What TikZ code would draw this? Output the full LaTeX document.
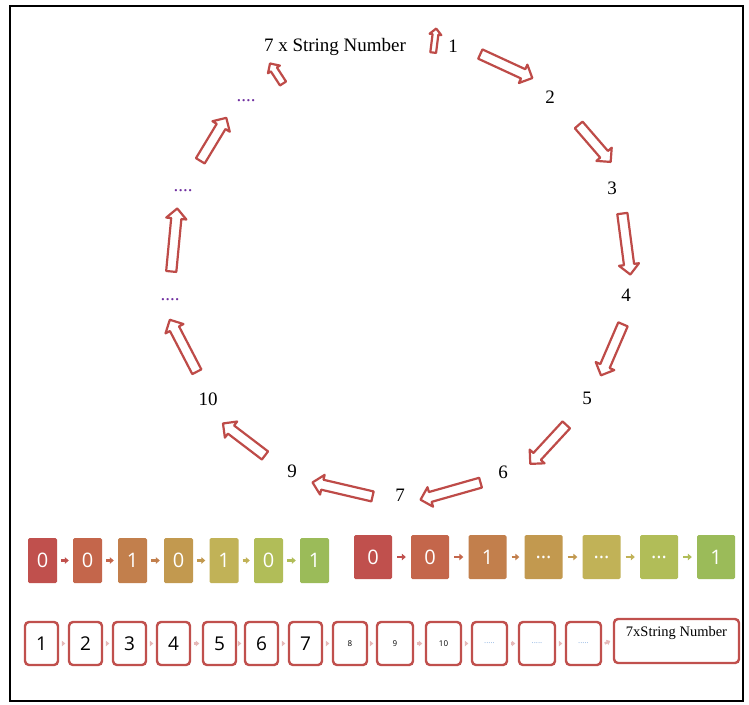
\documentclass[tikz,border=0pt]{standalone}
\usepackage{fontspec}
\setmainfont{Liberation Serif}
\newfontfamily\boxfont{Open Sans}
\usetikzlibrary{shapes.arrows,calc,arrows.meta}

\definecolor{ringred}{HTML}{BE4B48}
\definecolor{dotpurple}{HTML}{7030A0}
\definecolor{boxred}{HTML}{C0504D}
\definecolor{pinkconn}{HTML}{E6B9B8}
\definecolor{lightdots}{HTML}{8DB3E2}
\definecolor{gA}{HTML}{C0504D}
\definecolor{gB}{HTML}{C4664B}
\definecolor{gC}{HTML}{C27F4C}
\definecolor{gD}{HTML}{C2994F}
\definecolor{gE}{HTML}{C1B257}
\definecolor{gF}{HTML}{B1BD58}
\definecolor{gG}{HTML}{9BBB59}

\tikzset{
  ringarrow/.style={single arrow, draw=ringred, fill=white, line width=2.2pt,
    inner xsep=0pt, inner ysep=4pt, text height=0pt, text depth=0pt,
    minimum width=0pt, single arrow head extend=5pt, line join=round},
  smallarrow/.style={ringarrow, inner ysep=2.5pt, single arrow head extend=3.5pt},
  ringlabel/.style={font=\fontsize{19}{19}\selectfont, inner sep=0pt},
  dotlabel/.style={font=\fontsize{19}{19}\selectfont, text=dotpurple, inner sep=0pt},
  colbox/.style={rounded corners=1.5pt, inner sep=0pt, minimum height=45pt,
    text=white, font=\boxfont\fontsize{20}{20}\selectfont},
  lbox/.style={colbox, minimum width=29pt},
  rbox/.style={colbox, minimum width=38pt, minimum height=44pt},
  numbox/.style={draw=boxred, line width=2.4pt, rounded corners=4pt, fill=white,
    inner sep=0pt, minimum width=33pt, minimum height=43pt,
    font=\boxfont\fontsize{19}{19}\selectfont},
  tinybox/.style={numbox, font=\boxfont\fontsize{8}{8}\selectfont},
  dotbox/.style={numbox, font=\boxfont\fontsize{8}{8}\selectfont, text=lightdots},
  colconn/.style={line width=2.6pt, -{Triangle[length=4pt,width=6.5pt]}},
  pinkarrow/.style={pinkconn, line width=2.4pt, -{Triangle[length=3.5pt,width=5.5pt]}},
}

\newcommand\blockarrow[4][]{%
  \path let \p1=#3, \p2=#4, \n1={atan2(\y2-\y1,\x2-\x1)},
    \n2={veclen(\x2-\x1,\y2-\y1)} in
    node[ringarrow, #1, minimum height=\n2, rotate=\n1] (#2) at ($(\p1)!0.5!(\p2)$) {};
}

\begin{document}
\begin{tikzpicture}[x=1pt,y=-1pt]
\useasboundingbox (0,0) rectangle (749,704);
\fill[white] (0,0) rectangle (749,704);
\draw[line width=2.8pt, black] (10,6) rectangle (743,701);

% ring labels
\node[ringlabel] (top) at (335,47) {7 x String Number};
\node[ringlabel] (l1) at (453,46) {1};
\node[ringlabel] (l2) at (550,97) {2};
\node[ringlabel] (l3) at (612,188) {3};
\node[ringlabel] (l4) at (626,295) {4};
\node[ringlabel] (l5) at (587,398) {5};
\node[ringlabel] (l6) at (503,472) {6};
\node[ringlabel] (l7) at (400,495) {7};
\node[ringlabel] (l9) at (292,471) {9};
\node[ringlabel] (l10) at (208,399) {10};
\node[dotlabel] (d1) at (170,300) {....};
\node[dotlabel] (d2) at (183,191) {....};
\node[dotlabel] (d3) at (246,101) {....};

% ring arrows
\blockarrow{a1}{(478,53)}{(530,77)}
\blockarrow{a2}{(577,123)}{(609,160)}
\blockarrow{a3}{(622,211)}{(630,272)}
\blockarrow{a4}{(624,322)}{(602,373)}
\blockarrow{a5}{(568,423)}{(532,462)}
\blockarrow{a6}{(483,482)}{(423,499)}
\blockarrow{a7}{(375,497)}{(315,483)}
\blockarrow{a8}{(267,457)}{(225,425)}
\blockarrow{a9}{(198,374)}{(171,322)}
\blockarrow{a10}{(171,274)}{(177,211)}
\blockarrow{a11}{(199,163)}{(225,120)}
\blockarrow[smallarrow]{s1}{(284,85)}{(271,65)}
\blockarrow[smallarrow, inner ysep=1.8pt, single arrow head extend=3pt]{s2}{(433,54)}{(436,30)}

% row 1, left group
\node[lbox, fill=gA] (c1) at (42.5,560.5) {0};
\node[lbox, fill=gB] (c2) at (87.5,560.5) {0};
\node[lbox, fill=gC] (c3) at (132.5,560.5) {1};
\node[lbox, fill=gD] (c4) at (178.5,560.5) {0};
\node[lbox, fill=gE] (c5) at (224,560.5) {1};
\node[lbox, fill=gF] (c6) at (268.5,560.5) {0};
\node[lbox, fill=gG] (c7) at (314.5,560.5) {1};
\draw[colconn, gA] ([xshift=4pt]c1.east) -- ([xshift=-4pt]c2.west);
\draw[colconn, gB] ([xshift=4pt]c2.east) -- ([xshift=-4pt]c3.west);
\draw[colconn, gC] ([xshift=4pt]c3.east) -- ([xshift=-4pt]c4.west);
\draw[colconn, gD] ([xshift=4pt]c4.east) -- ([xshift=-4pt]c5.west);
\draw[colconn, gE] ([xshift=4pt]c5.east) -- ([xshift=-4pt]c6.west);
\draw[colconn, gF] ([xshift=4pt]c6.east) -- ([xshift=-4pt]c7.west);

% row 1, right group
\node[rbox, fill=gA] (r1) at (373,557) {0};
\node[rbox, fill=gB] (r2) at (430,557) {0};
\node[rbox, fill=gC] (r3) at (487.5,557) {1};
\node[rbox, fill=gD] (r4) at (543.5,557) {...};
\node[rbox, fill=gE] (r5) at (601.5,557) {...};
\node[rbox, fill=gF] (r6) at (659,557) {...};
\node[rbox, fill=gG] (r7) at (716,557) {1};
\draw[colconn, gA] ([xshift=5pt]r1.east) -- ([xshift=-5pt]r2.west);
\draw[colconn, gB] ([xshift=5pt]r2.east) -- ([xshift=-5pt]r3.west);
\draw[colconn, gC] ([xshift=5pt]r3.east) -- ([xshift=-5pt]r4.west);
\draw[colconn, gD] ([xshift=5pt]r4.east) -- ([xshift=-5pt]r5.west);
\draw[colconn, gE] ([xshift=5pt]r5.east) -- ([xshift=-5pt]r6.west);
\draw[colconn, gF] ([xshift=5pt]r6.east) -- ([xshift=-5pt]r7.west);

% row 2
\node[numbox] (b1) at (41.5,643.5) {1};
\node[numbox] (b2) at (85.5,643.5) {2};
\node[numbox] (b3) at (129.5,643.5) {3};
\node[numbox] (b4) at (173.5,643.5) {4};
\node[numbox] (b5) at (219.5,643.5) {5};
\node[numbox] (b6) at (261.5,643.5) {6};
\node[numbox] (b7) at (305.5,643.5) {7};
\node[tinybox, minimum width=34pt] (b8) at (350,643.5) {8};
\node[tinybox, minimum width=36pt] (b9) at (395,643.5) {9};
\node[tinybox, minimum width=35pt] (b10) at (443.5,643.5) {10};
\node[dotbox, minimum width=35pt] (b11) at (489.5,643.5) {.....};
\node[dotbox, minimum width=36pt] (b12) at (537,643.5) {.....};
\node[dotbox, minimum width=35pt] (b13) at (583.5,643.5) {.....};
\node[numbox, minimum width=125pt, minimum height=44pt, font=\fontsize{14.5}{14.5}\selectfont,
      text height=10pt, text depth=20pt] (b14) at (676.5,641) {7xString Number};
\foreach \i/\j in {1/2,2/3,3/4,4/5,5/6,6/7,7/8,8/9,9/10,10/11,11/12,12/13,13/14}
  \draw[pinkarrow] ([xshift=2.5pt]b\i.east) -- ([xshift=-2.5pt]b\j.west);
\end{tikzpicture}
\end{document}
